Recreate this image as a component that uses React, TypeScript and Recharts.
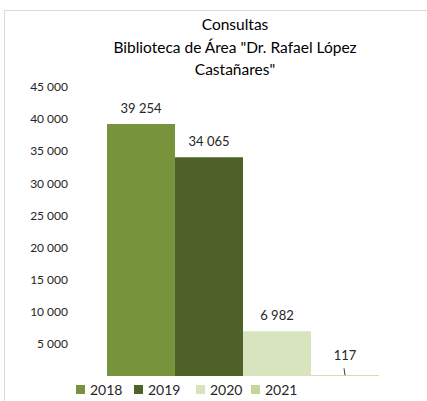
import React from 'react';
import { BarChart, Bar, XAxis, YAxis, LabelList } from 'recharts';

const years = ['2018', '2019', '2020', '2021'];
const consultas = [39254, 34065, 6982, 117];
const yTicks = [0, 5000, 10000, 15000, 20000, 25000, 30000, 35000, 40000, 45000];
const titleLines = ['Consultas', 'Biblioteca de Área "Dr. Rafael López', 'Castañares"'];

const COLORS = ['#77933C', '#4F6228', '#D7E4BD', '#C3D69B'];
const FONT = 'Lato, "Open Sans", sans-serif';
const LEGEND_X = [76, 134, 196, 251];

const fmt = (n: number) => String(n).replace(/\B(?=(\d{3})+(?!\d))/g, ' ');

const data = [
  years.reduce((row: any, y, i) => {
    row[y] = consultas[i];
    return row;
  }, { name: 'Consultas' }),
];

// value label above each bar; the tiny last bar gets a leader line like Excel
const BarLabel = (props: any) => {
  const { x, y, width, value } = props;
  const cx = x + width / 2;
  const small = value < 1000;
  return (
    <g>
      {small && <line x1={cx - 1} y1={y - 7} x2={cx} y2={y} stroke="#404040" strokeWidth={1} />}
      <text x={cx} y={small ? y - 15 : y - 11} textAnchor="middle" fontSize={13} fill="#262626" fontFamily={FONT}>
        {fmt(value)}
      </text>
    </g>
  );
};

export default function App() {
  return (
    <div style={{ position: 'absolute', left: 0, top: 0, width: 427, height: 401, background: '#fff', overflow: 'hidden', fontFamily: FONT }}>
      <div style={{ position: 'absolute', left: 4, top: 10, width: 440, height: 400, border: '1px solid #D9D9D9' }} />
      <div style={{ position: 'absolute', left: 35, top: 13, width: 400, textAlign: 'center', fontSize: 15.5, lineHeight: '22.5px', color: '#000' }}>
        {titleLines.map((t) => (
          <div key={t}>{t}</div>
        ))}
      </div>
      <div style={{ position: 'absolute', left: 0, top: 0 }}>
        <BarChart width={427} height={401} data={data} margin={{ top: 87, right: 50, bottom: 25, left: 0 }} barCategoryGap={0} barGap={0}>
          <XAxis dataKey="name" hide />
          <YAxis
            type="number"
            domain={[0, 45000]}
            ticks={yTicks}
            width={107}
            axisLine={false}
            tickLine={false}
            tickSize={0}
            tickMargin={39}
            tickFormatter={(v: number) => (v === 0 ? '' : fmt(v))}
            tick={{ fill: '#262626', fontSize: 12, fontFamily: FONT }}
          />
          {years.map((y, i) => (
            <Bar key={y} dataKey={y} fill={COLORS[i]} isAnimationActive={false}>
              <LabelList dataKey={y} content={BarLabel} />
            </Bar>
          ))}
        </BarChart>
      </div>
      {years.map((y, i) => (
        <div key={y} style={{ position: 'absolute', left: LEGEND_X[i], top: 381, display: 'flex', alignItems: 'center', fontSize: 14, color: '#262626' }}>
          <span style={{ width: 9, height: 9, background: COLORS[i], marginRight: 5, display: 'inline-block' }} />
          <span>{y}</span>
        </div>
      ))}
    </div>
  );
}
